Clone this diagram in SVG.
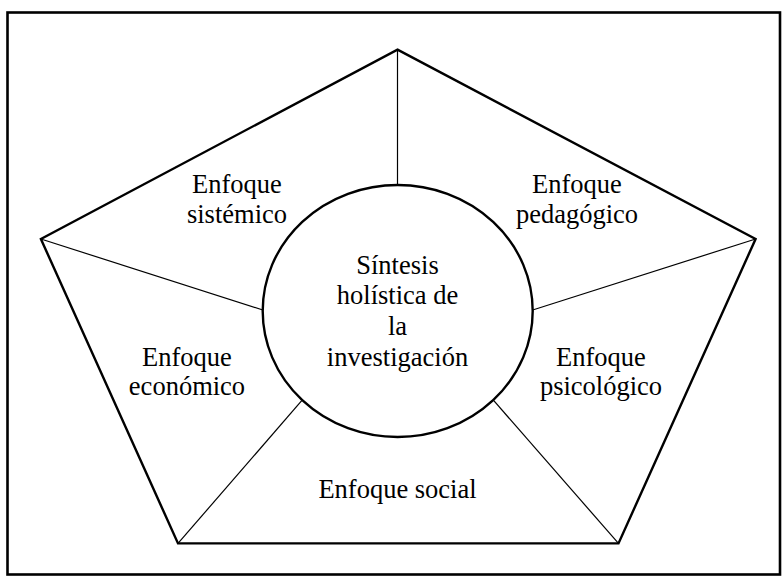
<svg xmlns="http://www.w3.org/2000/svg" width="782" height="576" viewBox="0 0 782 576">
<style>
.t{font-family:'Liberation Serif',serif;font-size:26.5px;fill:#000;text-anchor:middle}
.thin{stroke:#000;stroke-width:1.2;fill:none}
.thick{stroke:#000;stroke-width:2.4;fill:none;stroke-linejoin:miter}
</style>
<rect x="0" y="0" width="782" height="576" fill="#fff"/>
<rect id="frame" x="7.5" y="12.5" width="772.5" height="562" fill="none" stroke="#000" stroke-width="2.6"/>
<g id="pentagon">
<polygon class="thick" points="397.5,49.6 755.6,239 618.5,543.4 178,543.4 40.9,239"/>
</g>
<g id="connectors">
<line class="thin" x1="397.5" y1="49.6" x2="397.5" y2="185"/>
<line class="thin" x1="40.9" y1="239" x2="262.8" y2="310"/>
<line class="thin" x1="755.6" y1="239" x2="532.7" y2="310"/>
<line class="thin" x1="178" y1="543.4" x2="301.7" y2="400.7"/>
<line class="thin" x1="618.5" y1="543.4" x2="493.8" y2="400.7"/>
</g>
<g id="center">
<ellipse cx="397.7" cy="311" rx="135" ry="126" fill="#fff" stroke="#000" stroke-width="2.4"/>
<text class="t" x="397.5" y="274">Síntesis</text>
<text class="t" x="397.5" y="304">holística de</text>
<text class="t" x="397.5" y="335">la</text>
<text class="t" x="397.5" y="366">investigación</text>
</g>
<g id="sistemico">
<text class="t" x="237" y="193">Enfoque</text>
<text class="t" x="237" y="223">sistémico</text>
</g>
<g id="pedagogico">
<text class="t" x="577" y="193">Enfoque</text>
<text class="t" x="577" y="223">pedagógico</text>
</g>
<g id="economico">
<text class="t" x="187" y="366">Enfoque</text>
<text class="t" x="187" y="395">económico</text>
</g>
<g id="psicologico">
<text class="t" x="601" y="366">Enfoque</text>
<text class="t" x="601" y="395">psicológico</text>
</g>
<g id="social">
<text class="t" x="397.5" y="498">Enfoque social</text>
</g>
</svg>
